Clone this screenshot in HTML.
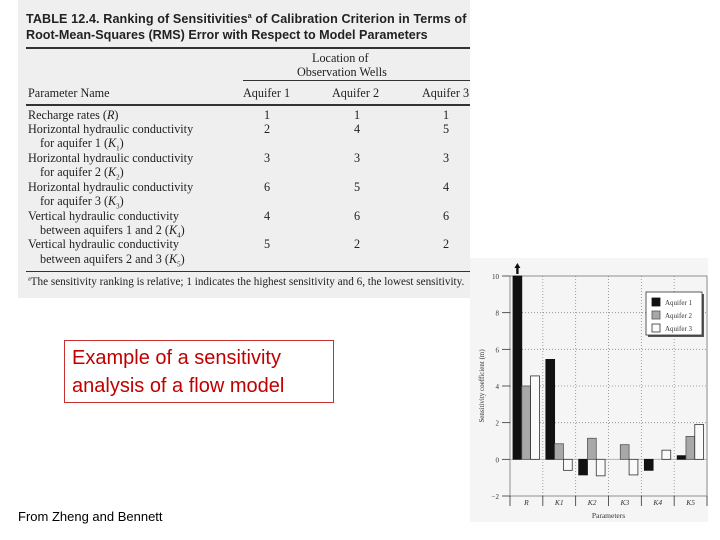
<!DOCTYPE html>
<html><head><meta charset="utf-8">
<style>
body{margin:0;width:720px;height:540px;background:#fff;position:relative;overflow:hidden;font-family:"Liberation Serif",serif;}
.abs{position:absolute;white-space:nowrap;}
#tbl{position:absolute;left:18px;top:0;width:452px;height:298px;background:#efefef;}
.sans{font-family:"Liberation Sans",sans-serif;}
.t{font-size:12.2px;color:#222;}
.c{text-align:center;width:40px;margin-left:-20px;}
.hl{position:absolute;height:1px;background:#333;}
</style></head><body>
<div id="tbl">
  <div class="abs sans" style="left:8px;top:12px;font-size:12.6px;font-weight:bold;color:#222;letter-spacing:0.1px">TABLE 12.4. Ranking of Sensitivities<sup style="font-size:7px">a</sup> of Calibration Criterion in Terms of</div>
  <div class="abs sans" style="left:8px;top:28px;font-size:12.6px;font-weight:bold;color:#222">Root-Mean-Squares (RMS) Error with Respect to Model Parameters</div>
  <div class="hl" style="left:8px;top:47px;width:444px;height:1.5px"></div>
  <div class="abs t" style="left:294px;top:51px">Location of</div>
  <div class="abs t" style="left:279px;top:65px">Observation Wells</div>
  <div class="hl" style="left:225px;top:80px;width:227px"></div>
  <div class="abs t" style="left:10px;top:86px">Parameter Name</div>
  <div class="abs t" style="left:225px;top:86px">Aquifer 1</div>
  <div class="abs t" style="left:314px;top:86px">Aquifer 2</div>
  <div class="abs t" style="left:404px;top:86px">Aquifer 3</div>
  <div class="hl" style="left:8px;top:104px;width:444px;height:1.5px"></div>
  <div id="rows"></div>
  <div class="hl" style="left:8px;top:271px;width:444px"></div>
  <div class="abs" style="left:10px;top:276px;font-size:11.2px;color:#222"><sup style="font-size:6px">a</sup>The sensitivity ranking is relative; 1 indicates the highest sensitivity and 6, the lowest sensitivity.</div>
</div>

<div class="abs sans" style="left:64px;top:340px;width:270px;height:63px;border:1px solid #c83030;color:#c00000;font-size:20px;line-height:28px;padding:3px 0 0 7px;box-sizing:border-box">Example of a sensitivity<br>analysis of a flow model</div>
<div class="abs sans" style="left:18px;top:509px;font-size:13px;color:#000">From Zheng and Bennett</div>

<svg id="chart" style="position:absolute;left:0;top:0" width="720" height="540"></svg>

<script>
// Table data
const rowNames=[["Recharge rates (",["R"],")"],["Horizontal hydraulic conductivity","for aquifer 1 (K","1",")"],["Horizontal hydraulic conductivity","for aquifer 2 (K","2",")"],["Horizontal hydraulic conductivity","for aquifer 3 (K","3",")"],["Vertical hydraulic conductivity","between aquifers 1 and 2 (K","4",")"],["Vertical hydraulic conductivity","between aquifers 2 and 3 (K","5",")"]];
const rank1=[1,2,3,6,4,5];
const rank2=[1,4,3,5,6,2];
const rank3=[1,5,3,4,6,2];

const rows=document.getElementById('rows');
const rowY=[108,122,151,180,209,237];
const subY=[0,136,165,194,223,252];
rank1.forEach((v,i)=>{
  const d=document.createElement('div');
  d.className='abs t';d.style.left='10px';d.style.top=rowY[i]+'px';
  if(i===0){d.innerHTML='Recharge rates (<i>R</i>)';}else{d.textContent=rowNames[i][0];}
  
  
  rows.appendChild(d);
  if(i>0){
    const s=document.createElement('div');
    s.className='abs t';s.style.left='22px';s.style.top=subY[i]+'px';
    s.innerHTML=rowNames[i][1].replace('(K','(<i>K</i>')+'<sub style="font-size:7px">'+rowNames[i][2]+'</sub>)';
    
    
    rows.appendChild(s);
  }
  [[rank1,249],[rank2,339],[rank3,428]].forEach(([arr,x],j)=>{
    const c=document.createElement('div');
    c.className='abs t c';c.style.left=x+'px';c.style.top=rowY[i]+'px';c.textContent=arr[i];
    
    
    rows.appendChild(c);
  });
});

// Chart data
const categories=["R","K1","K2","K3","K4","K5"];
const aquifer1=[10,5.45,-0.85,0,-0.6,0.2];
const aquifer2=[4,0.85,1.15,0.8,0,1.25];
const aquifer3=[4.55,-0.6,-0.9,-0.85,0.5,1.9];
const yTicks=[-2,0,2,4,6,8,10];

const NS='http://www.w3.org/2000/svg';
const svg=document.getElementById('chart');
function el(tag,attrs,parent){const e=document.createElementNS(NS,tag);for(const k in attrs)e.setAttribute(k,attrs[k]);(parent||svg).appendChild(e);return e;}
const X0=510,X1=707,Ytop=276,Ybot=496;
const yScale=v=>Ytop+(10-v)*(Ybot-Ytop)/12;
const catW=(X1-X0)/categories.length;
const xCat=i=>X0+i*catW;

const bg=el('rect',{x:470,y:258,width:238,height:264,fill:'#f5f5f5'});


yTicks.forEach(t=>{
  if(t>-2&&t!==0&&t<10){const g=el('line',{x1:X0,x2:X1,y1:yScale(t),y2:yScale(t),stroke:'#888','stroke-dasharray':'1,2','stroke-width':0.8});
  
  }
});
categories.forEach((c,i)=>{if(i>0){const g=el('line',{x1:xCat(i),x2:xCat(i),y1:Ytop,y2:Ybot,stroke:'#888','stroke-dasharray':'1,2','stroke-width':0.8});
  
  }});
const fr=el('rect',{x:X0,y:Ytop,width:X1-X0,height:Ybot-Ytop,fill:'none',stroke:'#777','stroke-width':0.8});


const zl=el('line',{x1:X0,x2:X1,y1:yScale(0),y2:yScale(0),stroke:'#aaa','stroke-width':0.8});


yTicks.forEach(t=>{
  const l=el('line',{x1:X0-8,x2:X0,y1:yScale(t),y2:yScale(t),stroke:'#333','stroke-width':0.8});
  
  
  const tx=el('text',{x:X0-11,y:yScale(t)+3,'font-size':7,'text-anchor':'end',fill:'#333','font-family':'Liberation Serif, serif'});
  tx.textContent=t<0?'\u2212'+(-t):t;
  
  
});
for(let i=0;i<=categories.length;i++){const l=el('line',{x1:xCat(i),x2:xCat(i),y1:Ybot,y2:Ybot+10,stroke:'#333','stroke-width':0.8});
  
  }
categories.forEach((c,i)=>{
  const tx=el('text',{x:xCat(i)+catW/2,y:Ybot+9,'font-size':7.5,'text-anchor':'middle','font-style':'italic',fill:'#333','font-family':'Liberation Serif, serif'});
  tx.textContent=c;
  
  
});
const xt=el('text',{x:(X0+X1)/2,y:518,'font-size':7.5,'text-anchor':'middle',fill:'#333','font-family':'Liberation Serif, serif'});
xt.textContent='Parameters';


const yt=el('text',{x:0,y:0,'font-size':7,'text-anchor':'middle',fill:'#333','font-family':'Liberation Serif, serif',transform:'translate(484,386) rotate(-90)'});
yt.textContent='Sensitivity coefficient (m)';


const series=[[aquifer1,'#111','#111'],[aquifer2,'#a8a8a8','#555'],[aquifer3,'#fafafa','#333']];
const bw=8.8;
series.forEach(([arr,fill,stroke],s)=>{
  arr.forEach((v,i)=>{
    if(v===0)return;
    const x=xCat(i)+3+s*bw;
    const y=Math.min(yScale(v),yScale(0));
    const r=el('rect',{x:x,y:y,width:bw,height:Math.abs(yScale(v)-yScale(0)),fill:fill,stroke:stroke,'stroke-width':0.8});
    
    
  });
});
const ax=xCat(0)+3+bw/2;
const ar=el('path',{d:`M${ax-3},${Ytop-8} L${ax},${Ytop-13} L${ax+3},${Ytop-8} L${ax+1.2},${Ytop-8} L${ax+1.2},${Ytop-2} L${ax-1.2},${Ytop-2} L${ax-1.2},${Ytop-8} Z`,fill:'#111'});


const lg=el('g',{});


el('rect',{x:648,y:294,width:56,height:43,fill:'#555'},lg);
el('rect',{x:646,y:292,width:56,height:43,fill:'#fff',stroke:'#333','stroke-width':0.8},lg);
['Aquifer 1','Aquifer 2','Aquifer 3'].forEach((n,k)=>{
  const y=298+k*13;
  const sw=el('rect',{x:652,y:y,width:8,height:8,fill:series[k][1],stroke:series[k][2],'stroke-width':0.8},lg);
  
  
  const t=el('text',{x:665,y:y+7,'font-size':7,fill:'#333','font-family':'Liberation Serif, serif'},lg);
  t.textContent=n;
  
  
});
</script>
</body></html>
